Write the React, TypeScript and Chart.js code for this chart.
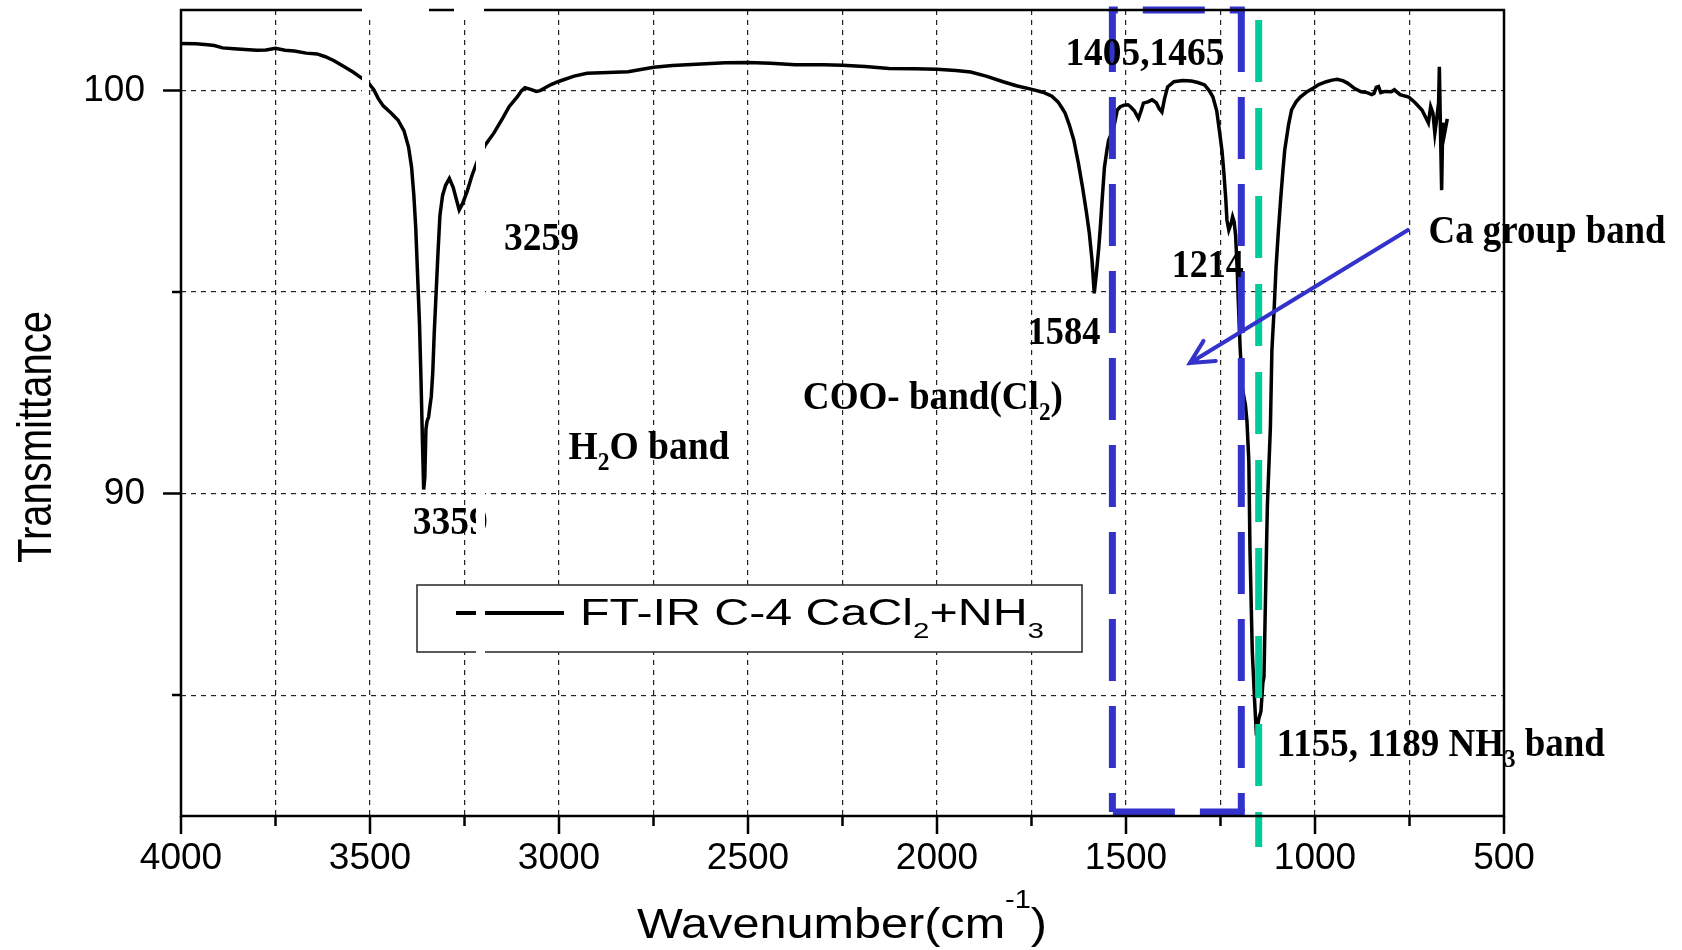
import { useEffect, useRef } from 'react';
import { Chart, registerables } from 'chart.js';

Chart.register(...registerables);

// ---------------- data ----------------
const WAVENUMBER: number[] = [
  4000, 3960, 3930, 3912, 3890, 3860, 3830, 3800, 3775, 3750, 3725, 3700, 3669, 3640, 3618, 3595, 3568, 3545, 3522, 3505,
  3490, 3478, 3465, 3445, 3426, 3410, 3398, 3390, 3384, 3379, 3374, 3369, 3365, 3361, 3358, 3355, 3352, 3349, 3345, 3341,
  3338, 3334, 3330, 3325, 3320, 3315, 3308, 3300, 3290, 3280, 3270, 3264, 3255, 3243, 3230, 3214, 3195, 3172, 3150, 3132,
  3110, 3099, 3090, 3075, 3060, 3050, 3021, 3003, 2960, 2926, 2870, 2817, 2780, 2749, 2700, 2624, 2560, 2500, 2440, 2375,
  2300, 2251, 2190, 2127, 2060, 2000, 1950, 1911, 1870, 1825, 1790, 1749, 1720, 1696, 1680, 1668, 1661, 1650, 1638, 1626,
  1615, 1605, 1597, 1590, 1584, 1578, 1572, 1568, 1563, 1557, 1550, 1546, 1538, 1532, 1523, 1515, 1505, 1495, 1488, 1478,
  1467, 1460, 1454, 1442, 1431, 1420, 1412, 1405, 1398, 1390, 1373, 1350, 1327, 1310, 1292, 1280, 1270, 1260, 1252, 1246,
  1241, 1236, 1233, 1228, 1222, 1218, 1214, 1210, 1206, 1203, 1198, 1192, 1188, 1184, 1180, 1175, 1172, 1166, 1160, 1155,
  1149, 1143, 1138, 1135, 1131, 1126, 1118, 1114, 1108, 1103, 1097, 1091, 1085, 1080, 1070, 1062, 1050, 1039, 1020, 1005,
  990, 970, 955, 941, 925, 913, 895, 878, 862, 850, 844, 838, 832, 826, 815, 798, 790, 775, 752, 735,
  717, 708, 700, 694, 688, 683, 678, 673, 671, 668, 665, 662, 658, 654, 650,
];

const TRANSMITTANCE: number[] = [
  101.17, 101.16, 101.14, 101.12, 101.06, 101.04, 101.02, 101.0, 101.01, 101.05, 101.0, 100.98, 100.93, 100.91, 100.84, 100.74, 100.59, 100.46, 100.31, 100.2,
  100.02, 99.8, 99.62, 99.45, 99.27, 99.0, 98.6, 98.1, 97.4, 96.6, 95.4, 94.2, 92.8, 91.2, 90.1, 90.4, 91.6, 91.8, 91.9, 92.2,
  92.4, 93.0, 94.0, 95.0, 96.0, 96.9, 97.4, 97.65, 97.82, 97.6, 97.25, 97.04, 97.2, 97.5, 97.9, 98.3, 98.65, 98.95, 99.3, 99.6,
  99.85, 100.0, 100.07, 100.03, 99.98, 100.0, 100.15, 100.22, 100.36, 100.43, 100.45, 100.47, 100.53, 100.58, 100.62, 100.66, 100.69, 100.7, 100.68, 100.64,
  100.64, 100.63, 100.6, 100.55, 100.54, 100.53, 100.5, 100.46, 100.36, 100.22, 100.12, 100.03, 99.96, 99.86, 99.72, 99.55, 99.44, 99.15, 98.77, 98.2,
  97.6, 97.0, 96.46, 95.8, 94.97, 95.5, 96.1, 96.6, 97.3, 98.1, 98.55, 98.77, 98.95, 99.1, 99.52, 99.6, 99.64, 99.65, 99.6, 99.5,
  99.31, 99.5, 99.69, 99.72, 99.77, 99.7, 99.55, 99.47, 99.8, 100.09, 100.22, 100.25, 100.24, 100.2, 100.14, 100.0, 99.84, 99.5, 98.94, 98.5,
  97.95, 97.3, 96.79, 96.54, 96.7, 96.87, 96.75, 96.4, 95.6, 94.8, 93.6, 92.6, 92.4, 92.2, 91.8, 90.8, 88.6, 86.1, 84.9, 84.0,
  84.4, 84.6, 85.3, 85.45, 87.4, 89.7, 91.65, 93.56, 94.6, 95.62, 96.5, 97.29, 98.0, 98.53, 99.15, 99.52, 99.72, 99.84, 99.98, 100.06,
  100.15, 100.22, 100.26, 100.28, 100.24, 100.18, 100.05, 99.97, 99.95, 99.9, 99.93, 100.08, 100.1, 99.95, 99.98, 99.97, 100.02, 99.9, 99.84, 99.7,
  99.52, 99.35, 99.2, 99.6, 99.44, 98.94, 99.3, 99.7, 100.59, 99.0, 97.53, 99.2, 98.9, 99.1, 99.3,
];

const X_TICK_LABELS: number[] = [4000, 3500, 3000, 2500, 2000, 1500, 1000, 500];
const X_TICKS: number[] = [4000, 3750, 3500, 3250, 3000, 2750, 2500, 2250, 2000, 1750, 1500, 1250, 1000, 750, 500];
const Y_TICK_LABELS: number[] = [100, 90];
const Y_TICKS: number[] = [100, 95, 90, 85];
const SERIES_LABEL = 'FT-IR C-4 CaCl2+NH3';

// ---------------- annotations ----------------
type Seg = { t: string; sub?: boolean; sup?: boolean };

const PEAK_TEXTS: { segs: Seg[]; x: number; y: number; w: number }[] = [
  { segs: [{ t: '3259' }], x: 3046, y: 96.04, w: 75 },
  { segs: [{ t: '3359' }], x: 3288, y: 89.0, w: 75 },
  { segs: [{ t: 'H' }, { t: '2', sub: true }, { t: 'O band' }], x: 2762, y: 90.86, w: 161 },
  { segs: [{ t: '1584' }], x: 1664, y: 93.72, w: 73 },
  { segs: [{ t: 'COO- band(Cl' }, { t: '2', sub: true }, { t: ')' }], x: 2011, y: 92.1, w: 260 },
  { segs: [{ t: '1214' }], x: 1284, y: 95.38, w: 72 },
  { segs: [{ t: '1405,1465' }], x: 1450, y: 100.64, w: 159 },
  { segs: [{ t: 'Ca group band' }], x: 386, y: 96.22, w: 237 },
  { segs: [{ t: '1155, 1189 NH' }, { t: '3', sub: true }, { t: ' band' }], x: 667, y: 83.5, w: 328 },
];

const BLUE = 'rgb(51,51,204)';
const GREEN = 'rgb(0,204,153)';
const COO_BOX = { x1: 1536, x2: 1195, yTop: 102, yBottom: 82.1 };
const NH3_LINE = { x: 1149, yTop: 101.75, yBottom: 81.23 };
const CA_ARROW = { x1: 754, y1: 96.54, x2: 1331, y2: 93.24 };

const SANS = '"Liberation Sans", Arial, sans-serif';
const SERIF = '"Liberation Serif", "Times New Roman", serif';

function drawRich(
  ctx: CanvasRenderingContext2D,
  segs: Seg[],
  x: number,
  baseline: number,
  family: string,
  size: number,
  weight: string,
  targetW: number | null,
  opts: { subScale?: number; subOff?: number; supOff?: number; rotate?: number; align?: 'center' | 'left' } = {}
) {
  const subScale = opts.subScale ?? 0.62;
  const subOff = opts.subOff ?? 0.32;
  const supOff = opts.supOff ?? 0.62;
  const fontOf = (s: Seg) => `${weight} ${s.sub || s.sup ? Math.round(size * subScale) : size}px ${family}`;
  let natural = 0;
  const widths = segs.map((s) => {
    ctx.font = fontOf(s);
    const w = ctx.measureText(s.t).width;
    natural += w;
    return w;
  });
  const sx = targetW ? targetW / natural : 1;
  ctx.save();
  ctx.translate(x, baseline);
  if (opts.rotate) ctx.rotate(opts.rotate);
  ctx.scale(sx, 1);
  ctx.textAlign = 'left';
  ctx.textBaseline = 'alphabetic';
  ctx.fillStyle = '#000';
  let cx = opts.align === 'left' ? 0 : -natural / 2;
  segs.forEach((s, i) => {
    ctx.font = fontOf(s);
    const dy = s.sub ? size * subOff : s.sup ? -size * supOff : 0;
    ctx.fillText(s.t, cx, dy);
    cx += widths[i];
  });
  ctx.restore();
}

function dashedLine(
  ctx: CanvasRenderingContext2D,
  x1: number, y1: number, x2: number, y2: number,
  color: string, width: number, dash: number[], offset: number
) {
  ctx.save();
  ctx.strokeStyle = color;
  ctx.lineWidth = width;
  ctx.lineCap = 'butt';
  ctx.setLineDash(dash);
  ctx.lineDashOffset = offset;
  ctx.beginPath();
  ctx.moveTo(x1, y1);
  ctx.lineTo(x2, y2);
  ctx.stroke();
  ctx.restore();
}

const overlayPlugin = {
  id: 'overlay',
  afterDatasetsDraw(chart: any) {
    const ctx: CanvasRenderingContext2D = chart.ctx;
    const xs = chart.scales.x;
    const ys = chart.scales.y;
    // blue dashed box (COO- band)
    const L = xs.getPixelForValue(COO_BOX.x1);
    const R = xs.getPixelForValue(COO_BOX.x2);
    const T = ys.getPixelForValue(COO_BOX.yTop);
    const B = ys.getPixelForValue(COO_BOX.yBottom);
    const bd = [62, 25];
    dashedLine(ctx, L, T, L, B, BLUE, 7, bd, 0);
    dashedLine(ctx, R, T, R, B, BLUE, 7, bd, 0);
    dashedLine(ctx, L - 3.5, B, R + 3.5, B, BLUE, 7, bd, -4);
    dashedLine(ctx, R + 3.5, T, L - 3.5, T, BLUE, 7, bd, 47);
    // green dashed line (NH3 band)
    const gx = xs.getPixelForValue(NH3_LINE.x);
    dashedLine(ctx, gx, ys.getPixelForValue(NH3_LINE.yTop), gx, ys.getPixelForValue(NH3_LINE.yBottom), GREEN, 7, [62, 26], 0);
    // arrow (Ca group band)
    const ax1 = xs.getPixelForValue(CA_ARROW.x1);
    const ay1 = ys.getPixelForValue(CA_ARROW.y1);
    const ax2 = xs.getPixelForValue(CA_ARROW.x2);
    const ay2 = ys.getPixelForValue(CA_ARROW.y2);
    const ang = Math.atan2(ay1 - ay2, ax1 - ax2);
    ctx.save();
    ctx.strokeStyle = BLUE;
    ctx.lineWidth = 4;
    ctx.lineCap = 'round';
    ctx.beginPath();
    ctx.moveTo(ax1, ay1);
    ctx.lineTo(ax2, ay2);
    const hl = 26;
    const ha = 0.47;
    ctx.moveTo(ax2 + hl * Math.cos(ang - ha), ay2 + hl * Math.sin(ang - ha));
    ctx.lineTo(ax2, ay2);
    ctx.lineTo(ax2 + hl * Math.cos(ang + ha), ay2 + hl * Math.sin(ang + ha));
    ctx.stroke();
    ctx.restore();
    // peak / band texts
    PEAK_TEXTS.forEach((p) => {
      drawRich(ctx, p.segs, xs.getPixelForValue(p.x), ys.getPixelForValue(p.y), SERIF, 40, 'bold', p.w, { subScale: 0.62, subOff: 0.28 });
    });
  },
  afterDraw(chart: any) {
    const ctx: CanvasRenderingContext2D = chart.ctx;
    const ca = chart.chartArea;
    const xs = chart.scales.x;
    const ys = chart.scales.y;
    // tick marks
    ctx.save();
    ctx.strokeStyle = '#000';
    ctx.lineWidth = 2.5;
    ctx.beginPath();
    Y_TICKS.forEach((v) => {
      const y = ys.getPixelForValue(v);
      const len = Y_TICK_LABELS.includes(v) ? 18 : 9;
      ctx.moveTo(ca.left, y);
      ctx.lineTo(ca.left - len, y);
    });
    X_TICKS.forEach((v) => {
      const x = xs.getPixelForValue(v);
      const len = X_TICK_LABELS.includes(v) ? 18 : 10;
      ctx.moveTo(x, ca.bottom);
      ctx.lineTo(x, ca.bottom + len);
    });
    ctx.stroke();
    // frame
    ctx.lineWidth = 2.5;
    ctx.strokeRect(ca.left, ca.top, ca.right - ca.left, ca.bottom - ca.top);
    ctx.restore();

    // legend
    ctx.save();
    ctx.fillStyle = '#fff';
    ctx.fillRect(417, 585, 665, 67);
    ctx.strokeStyle = '#333';
    ctx.lineWidth = 1.6;
    ctx.strokeRect(417, 585, 665, 67);
    ctx.strokeStyle = '#000';
    ctx.lineWidth = 4;
    ctx.beginPath();
    ctx.moveTo(456, 613);
    ctx.lineTo(564, 613);
    ctx.stroke();
    ctx.restore();
    const lbl = chart.data.datasets[0].label as string;
    const legendSegs: Seg[] = [
      { t: lbl.slice(0, 14) },
      { t: '2', sub: true },
      { t: '+NH' },
      { t: '3', sub: true },
    ];
    drawRich(ctx, legendSegs, 580, 625, SANS, 36, 'normal', 464, { align: 'left', subScale: 0.6, subOff: 0.36 });

    // axis titles
    drawRich(ctx, [{ t: 'Transmittance' }], 51, 437, SANS, 49, 'normal', 252, { rotate: -Math.PI / 2 });
    drawRich(ctx, [{ t: 'Wavenumber(cm' }, { t: '-1', sup: true }, { t: ')' }], 842, 938, SANS, 42, 'normal', 410, { subScale: 0.6, supOff: 0.72 });

    // white patches present in the reference image
    ctx.save();
    ctx.fillStyle = '#fff';
    ctx.fillRect(362, 0, 67, 15);
    ctx.fillRect(454, 0, 30, 15);
    ctx.fillRect(362, 15, 7, 90);
    ctx.fillRect(476, 100, 9, 480);
    ctx.fillRect(476, 598, 9, 60);
    ctx.restore();
  },
};

export default function App() {
  const ref = useRef<HTMLCanvasElement>(null);
  useEffect(() => {
    const canvas = ref.current;
    if (!canvas) return;
    const points = WAVENUMBER.map((x, i) => ({ x, y: TRANSMITTANCE[i] }));
    const chart = new Chart(canvas, {
      type: 'line',
      data: {
        datasets: [
          {
            label: SERIES_LABEL,
            data: points,
            borderColor: '#000',
            backgroundColor: '#000',
            borderWidth: 3.5,
            pointRadius: 0,
            tension: 0,
            fill: false,
          },
        ],
      },
      options: {
        animation: false,
        responsive: false,
        devicePixelRatio: 1,
        layout: { padding: { left: 0, top: 10, right: 178, bottom: 0 } },
        plugins: { legend: { display: false }, tooltip: { enabled: false } },
        scales: {
          x: {
            type: 'linear',
            reverse: true,
            min: 500,
            max: 4000,
            afterBuildTicks: (s: any) => {
              s.ticks = X_TICKS.map((v) => ({ value: v }));
            },
            afterFit: (s: any) => {
              s.height = 134;
              s.paddingLeft = 0;
              s.paddingRight = 0;
            },
            ticks: {
              autoSkip: false,
              maxRotation: 0,
              minRotation: 0,
              padding: 21,
              color: '#000',
              font: { family: SANS, size: 37 },
              callback: (v: any) => (X_TICK_LABELS.includes(Number(v)) ? String(v) : ''),
            },
            grid: {
              display: true,
              drawTicks: false,
              lineWidth: 1.2,
              color: (c: any) => {
                const v = c.tick ? c.tick.value : 0;
                return v === 500 || v === 4000 ? 'rgba(0,0,0,0)' : '#222';
              },
            },
            border: { display: false, dash: [5, 5] },
          },
          y: {
            type: 'linear',
            min: 82,
            max: 102,
            afterBuildTicks: (s: any) => {
              s.ticks = Y_TICKS.map((v) => ({ value: v }));
            },
            afterFit: (s: any) => {
              s.width = 181;
              s.paddingTop = 0;
              s.paddingBottom = 0;
            },
            ticks: {
              autoSkip: false,
              padding: 36,
              color: '#000',
              font: { family: SANS, size: 37 },
              callback: (v: any) => (Y_TICK_LABELS.includes(Number(v)) ? String(v) : ''),
            },
            grid: {
              display: true,
              drawTicks: false,
              lineWidth: 1.2,
              color: '#222',
            },
            border: { display: false, dash: [5, 5] },
          },
        },
      },
      plugins: [overlayPlugin],
    });
    return () => chart.destroy();
  }, []);
  return (
    <div style={{ position: 'fixed', left: 0, top: 0, width: 1682, height: 950, background: '#fff' }}>
      <canvas ref={ref} width={1682} height={950} style={{ display: 'block' }} />
    </div>
  );
}
